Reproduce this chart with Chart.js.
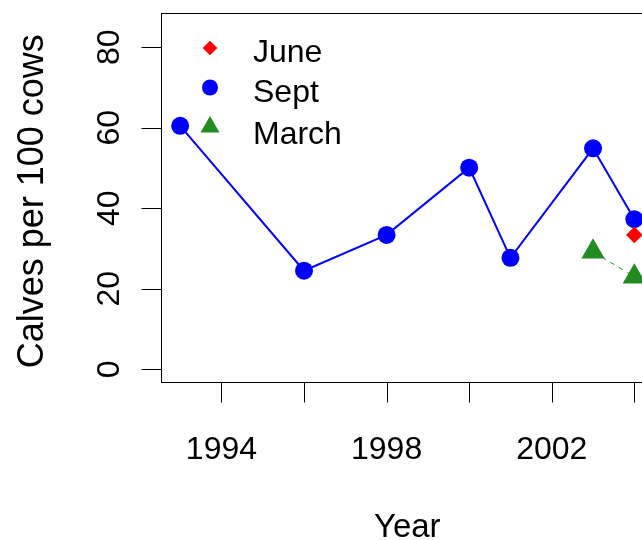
<!DOCTYPE html>
<html>
<head>
<meta charset="utf-8">
<script src="https://cdn.jsdelivr.net/npm/chart.js@4/dist/chart.umd.min.js"></script>
<style>
  html, body { margin: 0; padding: 0; background: #fff; overflow: hidden; }
  #wrap { width: 642px; height: 540px; overflow: hidden; position: relative; }
  canvas { display: block; }
</style>
</head>
<body>
<div id="wrap"><canvas id="c" width="670" height="540"></canvas></div>
<script>
// Calf recruitment: calves per 100 cows by survey month
const septYears   = [1993, 1996, 1998, 2000, 2001, 2003, 2004];
const septCalves  = [60.5, 24.5, 33.4, 50.1, 27.7, 54.9, 37.3];
const juneYears   = [2004];
const juneCalves  = [33.4];
const marchYears  = [2003, 2004];
const marchCalves = [29.2, 23.0];

const yTicks = [0, 20, 40, 60, 80];
const xTicks = [1994, 1996, 1998, 2000, 2002, 2004];
const xTickLabels = ['1994', '', '1998', '', '2002', ''];

const legendNames = ['June', 'Sept', 'March'];

const FONT = "'Liberation Sans', Arial, Helvetica, sans-serif";
const BLUE = '#0000FF', RED = '#FF0000', GREEN = '#228B22';

const pairs = (xs, ys) => xs.map((x, i) => ({ x: x, y: ys[i] }));

function shape(ctx, style, x, y, r) {
  ctx.beginPath();
  if (style === 'circle') {
    ctx.arc(x, y, r, 0, Math.PI * 2);
  } else if (style === 'rectRot') {
    ctx.moveTo(x - r, y); ctx.lineTo(x, y - r); ctx.lineTo(x + r, y); ctx.lineTo(x, y + r);
  } else if (style === 'triangle') {
    for (let k = 0; k < 3; k++) {
      const a = k * 2 * Math.PI / 3;
      const px = x + Math.sin(a) * r, py = y - Math.cos(a) * r;
      if (k === 0) ctx.moveTo(px, py); else ctx.lineTo(px, py);
    }
  }
  ctx.closePath();
  ctx.fill();
}

// Frame, axes, tick labels, titles and legend in the base-graphics style
const frame = {
  id: 'frame',
  afterDatasetsDraw(chart) {
    const ctx = chart.ctx;
    const xs = chart.scales.x, ys = chart.scales.y;
    const a = chart.chartArea;
    const L = Math.round(a.left) - 0.5, T = Math.round(a.top) - 0.5;
    const R = Math.round(a.right) - 0.5, B = Math.round(a.bottom) - 0.5;
    ctx.save();
    ctx.strokeStyle = '#000';
    ctx.lineWidth = 1;
    ctx.strokeRect(L, T, R - L, B - T);

    // y axis
    ctx.beginPath();
    ctx.moveTo(L, Math.round(ys.getPixelForValue(yTicks[0])) + 0.5);
    ctx.lineTo(L, Math.round(ys.getPixelForValue(yTicks[yTicks.length - 1])) + 0.5);
    yTicks.forEach(v => {
      const py = Math.round(ys.getPixelForValue(v)) + 0.5;
      ctx.moveTo(L - 20, py); ctx.lineTo(L, py);
    });
    // x axis
    ctx.moveTo(Math.round(xs.getPixelForValue(xTicks[0])) + 0.5, B);
    ctx.lineTo(Math.round(xs.getPixelForValue(xTicks[xTicks.length - 1])) + 0.5, B);
    xTicks.forEach(v => {
      const px = Math.round(xs.getPixelForValue(v)) + 0.5;
      ctx.moveTo(px, B); ctx.lineTo(px, B + 20);
    });
    ctx.stroke();

    ctx.fillStyle = '#000';
    ctx.font = '32px ' + FONT;
    ctx.textAlign = 'center';
    ctx.textBaseline = 'alphabetic';
    xTicks.forEach((v, i) => {
      if (xTickLabels[i]) ctx.fillText(xTickLabels[i], xs.getPixelForValue(v), 459);
    });
    yTicks.forEach(v => {
      ctx.save();
      ctx.translate(118.5, ys.getPixelForValue(v));
      ctx.rotate(-Math.PI / 2);
      ctx.fillText(String(v), 0, 0);
      ctx.restore();
    });

    // axis titles
    ctx.font = '33px ' + FONT;
    ctx.fillText('Year', (a.left + a.right) / 2, 537);
    ctx.save();
    ctx.font = '36px ' + FONT;
    ctx.translate(42.5, (a.top + a.bottom) / 2 + 3);
    ctx.rotate(-Math.PI / 2);
    ctx.fillText('Calves per 100 cows', 0, 0);
    ctx.restore();

    // legend
    const legendStyles = [
      { color: RED, style: 'rectRot', r: 7.3 },
      { color: BLUE, style: 'circle', r: 8 },
      { color: GREEN, style: 'triangle', r: 11 }
    ];
    const symY = [48, 87.5, 127];
    const txtY = [61.5, 102, 143.5];
    ctx.font = '32px ' + FONT;
    ctx.textAlign = 'left';
    legendNames.forEach((name, i) => {
      ctx.fillStyle = legendStyles[i].color;
      shape(ctx, legendStyles[i].style, 210, symY[i], legendStyles[i].r);
      ctx.fillStyle = '#000';
      ctx.fillText(name, 253, txtY[i]);
    });
    ctx.restore();
  }
};

new Chart(document.getElementById('c'), {
  type: 'line',
  data: {
    datasets: [
      {
        label: 'Sept',
        data: pairs(septYears, septCalves),
        borderColor: BLUE,
        backgroundColor: BLUE,
        borderWidth: 2,
        pointStyle: 'circle',
        pointRadius: 9,
        pointBorderWidth: 0,
        pointBackgroundColor: BLUE,
        tension: 0,
        order: 2,
        clip: false
      },
      {
        label: 'June',
        data: pairs(juneYears, juneCalves),
        showLine: false,
        borderColor: RED,
        backgroundColor: RED,
        pointStyle: 'rectRot',
        pointRadius: 8.3,
        pointBorderWidth: 0,
        pointBackgroundColor: RED,
        order: 0,
        clip: false
      },
      {
        label: 'March',
        data: pairs(marchYears, marchCalves),
        borderColor: GREEN,
        backgroundColor: GREEN,
        borderWidth: 1,
        borderDash: [5, 5],
        pointStyle: 'triangle',
        pointRadius: 13.5,
        pointBorderWidth: 0,
        pointBackgroundColor: GREEN,
        tension: 0,
        order: 1,
        clip: false
      }
    ]
  },
  options: {
    responsive: false,
    animation: false,
    devicePixelRatio: 1,
    layout: { padding: { left: 162, top: 11, right: 17.5, bottom: 157 } },
    plugins: { legend: { display: false }, tooltip: { enabled: false } },
    scales: {
      x: { type: 'linear', min: 1992.56, max: 2004.44, display: false },
      y: { type: 'linear', min: -3.4, max: 88.4, display: false }
    }
  },
  plugins: [frame]
});
</script>
</body>
</html>
